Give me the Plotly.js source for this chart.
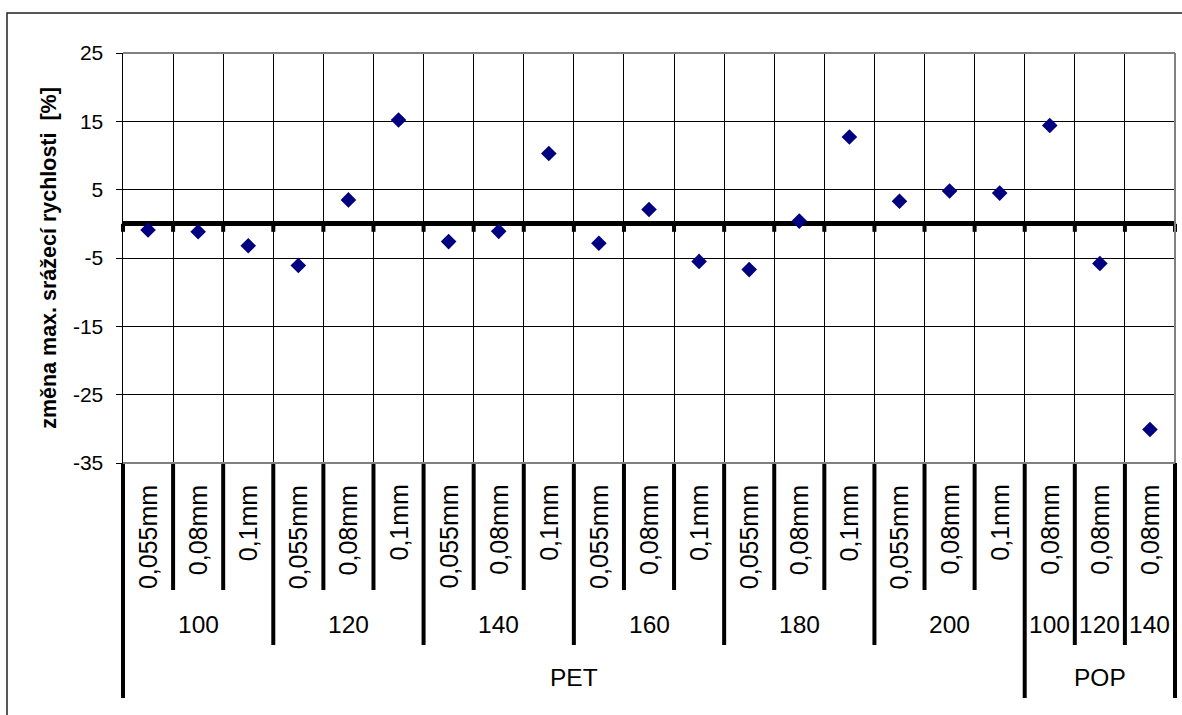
<!DOCTYPE html>
<html>
<head>
<meta charset="utf-8">
<script src="https://cdn.plot.ly/plotly-3.0.1.min.js"></script>
<style>html,body{margin:0;padding:0;background:#fff;}#chart{width:1182px;height:715px;}</style>
</head>
<body>
<div id="chart"></div>
<script>
// ---- data ----
const thickness = ['0,055mm','0,08mm','0,1mm','0,055mm','0,08mm','0,1mm','0,055mm','0,08mm','0,1mm',
                   '0,055mm','0,08mm','0,1mm','0,055mm','0,08mm','0,1mm','0,055mm','0,08mm','0,1mm',
                   '0,08mm','0,08mm','0,08mm'];
const temperature = ['100','100','100','120','120','120','140','140','140','160','160','160',
                     '180','180','180','200','200','200','100','120','140'];
const material = ['PET','PET','PET','PET','PET','PET','PET','PET','PET','PET','PET','PET',
                  'PET','PET','PET','PET','PET','PET','POP','POP','POP'];
const values = [-0.9, -1.15, -3.2, -6.1, 3.5, 15.2, -2.6, -1.1, 10.3, -2.85, 2.1, -5.5,
                -6.7, 0.4, 12.7, 3.3, 4.8, 4.5, 14.4, -5.8, -30.1];
const yTicks = [-35, -25, -15, -5, 5, 15, 25];
const yTickText = ['-35', '-25', '-15', '-5', '5', '15', '25'];
const yTitle = 'změna max. srážecí rychlosti  [%]';

// ---- layout geometry ----
const W = 1182, H = 715;
const M = {l: 123, r: 7, t: 53, b: 252};
const PW = W - M.l - M.r, PH = H - M.t - M.b;
const FONT = 'Arial, "Liberation Sans", sans-serif';

const n = values.length;
const xs = values.map((v, i) => i + 0.5);
const bounds = Array.from({length: n + 1}, (_, i) => i);

// level of each boundary (1: thickness, 2: temperature, 3: material)
function boundaryLevel(b) {
  if (b === 0 || b === n) return 3;
  if (material[b] !== material[b - 1]) return 3;
  if (temperature[b] !== temperature[b - 1]) return 2;
  return 1;
}
const sepLen = {1: 127, 2: 182, 3: 235};

function runs(keyFn) {
  const out = [];
  let start = 0;
  for (let i = 1; i <= n; i++) {
    if (i === n || keyFn(i) !== keyFn(start)) {
      out.push({start: start, end: i, label: keyFn(start).split('|').pop()});
      start = i;
    }
  }
  return out;
}
const tempGroups = runs(i => material[i] + '|' + temperature[i]);
const matGroups = runs(i => material[i]);

const shapes = [];
bounds.forEach(b => {
  // separators below the plot
  shapes.push({type: 'line', xref: 'x domain', yref: 'y domain', x0: b / n, x1: b / n,
    ysizemode: 'pixel', yanchor: 0, y0: 0, y1: -sepLen[boundaryLevel(b)],
    line: {color: 'black', width: 4}, layer: 'above'});
  // tick marks hanging from the zero axis
  shapes.push({type: 'line', xref: 'x domain', yref: 'y', x0: b / n, x1: b / n,
    ysizemode: 'pixel', yanchor: 0, y0: 0, y1: -8,
    line: {color: 'black', width: 4}, layer: 'above'});
});
// plot area border (gray top/right/bottom)
shapes.push({type: 'line', xref: 'paper', yref: 'paper', x0: 0, x1: 1, y0: 1, y1: 1, line: {color: '#808080', width: 2}, layer: 'above'});
shapes.push({type: 'line', xref: 'paper', yref: 'paper', x0: 1, x1: 1, y0: 0, y1: 1, line: {color: '#808080', width: 2}, layer: 'above'});
shapes.push({type: 'line', xref: 'paper', yref: 'paper', x0: 0, x1: 1, y0: 0, y1: 0, line: {color: '#808080', width: 2}, layer: 'above'});
// chart area border
shapes.push({type: 'rect', xref: 'paper', yref: 'paper',
  x0: (7 - M.l) / PW, x1: (W + 10 - M.l) / PW,
  y0: 1 - (H + 10 - M.t) / PH, y1: 1 - (13 - M.t) / PH,
  line: {color: '#222', width: 1.5}, fillcolor: 'rgba(0,0,0,0)', layer: 'above'});

const annotations = [];
thickness.forEach((t, i) => {
  annotations.push({xref: 'x', yref: 'paper', x: i + 0.5, y: 0, yshift: -20,
    xanchor: 'center', yanchor: 'top', textangle: -90, text: t, showarrow: false,
    font: {family: FONT, size: 25, color: 'black'}});
});
tempGroups.forEach(g => {
  annotations.push({xref: 'x', yref: 'paper', x: (g.start + g.end) / 2, y: 0, yshift: -161,
    xanchor: 'center', yanchor: 'middle', text: g.label, showarrow: false,
    font: {family: FONT, size: 24.5, color: 'black'}});
});
matGroups.forEach(g => {
  annotations.push({xref: 'x', yref: 'paper', x: (g.start + g.end) / 2, y: 0, yshift: -214,
    xanchor: 'center', yanchor: 'middle', text: g.label, showarrow: false,
    font: {family: FONT, size: 24.5, color: 'black'}});
});

const trace = {
  type: 'scatter', mode: 'markers', x: xs, y: values,
  marker: {symbol: 'diamond', size: 12, color: '#000080', line: {width: 0}},
  cliponaxis: false, hoverinfo: 'y'
};

const layout = {
  width: W, height: H,
  margin: M,
  paper_bgcolor: 'white', plot_bgcolor: 'white',
  font: {family: FONT, color: 'black'},
  showlegend: false,
  xaxis: {
    range: [0, n], tickvals: bounds, showticklabels: false, ticks: '',
    showgrid: true, gridcolor: 'black', gridwidth: 1, zeroline: false, showline: false,
    fixedrange: true
  },
  yaxis: {
    range: [yTicks[0], yTicks[yTicks.length - 1]], tickvals: yTicks, ticktext: yTickText,
    ticks: 'outside', ticklen: 6, tickcolor: 'black', tickwidth: 1,
    tickfont: {family: FONT, size: 21, color: 'black'}, ticklabelstandoff: 8,
    showgrid: true, gridcolor: 'black', gridwidth: 1,
    zeroline: true, zerolinecolor: 'black', zerolinewidth: 5,
    showline: true, linecolor: 'black', linewidth: 1.5,
    title: {text: yTitle, font: {family: FONT, size: 21.5, color: 'black', weight: 'bold'}, standoff: 10},
    automargin: false, fixedrange: true
  },
  shapes: shapes,
  annotations: annotations
};

Plotly.newPlot('chart', [trace], layout, {displayModeBar: false, staticPlot: true});
</script>
</body>
</html>
